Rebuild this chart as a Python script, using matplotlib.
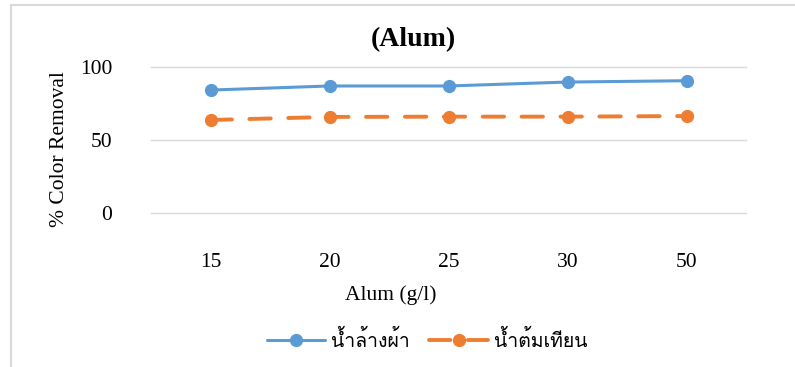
import matplotlib
matplotlib.use("Agg")
import matplotlib.pyplot as plt
from matplotlib import font_manager
from matplotlib.ft2font import FT2Font
from matplotlib.patches import Rectangle

# Data
doses = ["15", "20", "25", "30", "50"]
laundry = [84.2, 87.0, 87.0, 89.7, 90.6]
candle = [63.7, 65.8, 66.0, 66.0, 66.4]
series_names = ["น้ำล้างผ้า", "น้ำต้มเทียน"]
title = "(Alum)"
xlabel = "Alum (g/l)"
ylabel = "% Color Removal"


def thai_family():
    for f in font_manager.fontManager.ttflist:
        try:
            ft = FT2Font(f.fname)
            if ft.get_char_index(ord("น")) and ft.get_char_index(ord("้")):
                return f.name
        except Exception:
            pass
    return "DejaVu Sans"


serif = "Liberation Serif"
thai = thai_family()

fig = plt.figure(figsize=(7.95, 3.67), dpi=100)
W, H = 795, 367

# chart frame
fig.patches.append(Rectangle((11 / W, -0.1), 1.2, 1 - 5 / H + 0.1,
                             transform=fig.transFigure, fill=False,
                             edgecolor="#d9d9d9", linewidth=1.5))

ax = fig.add_axes([151 / W, 1 - 213 / H, 595 / W, (213 - 67) / H])
x = list(range(len(doses)))
ax.plot(x, laundry, color="#5B9BD5", linewidth=2.2, marker="o",
        markersize=8.5, solid_capstyle="round", label=series_names[0])
ax.plot(x, candle, color="#ED7D31", linewidth=2.8, marker="o",
        markersize=8.5, dashes=(5.5, 4.5), dash_capstyle="round",
        label=series_names[1])

ax.set_xlim(-0.5, len(doses) - 0.5)
ax.set_ylim(0, 100)
ax.set_yticks([0, 50, 100])
ax.set_xticks(x)
ax.set_xticklabels(doses)
ax.grid(axis="y", color="#d9d9d9", linewidth=1)
for gl in ax.get_ygridlines():
    gl.set_clip_on(False)
ax.set_axisbelow(True)
for s in ax.spines.values():
    s.set_visible(False)
ax.tick_params(length=0, labelsize=15.5)
ax.tick_params(axis="x", pad=29)
ax.tick_params(axis="y", pad=28)
for lab in ax.get_xticklabels() + ax.get_yticklabels():
    lab.set_fontfamily(serif)

fig.text(413 / W, 1 - 40 / H, title, ha="center", va="center",
         fontsize=20, fontweight="bold", fontfamily=serif)
fig.text(391 / W, 1 - 295 / H, xlabel, ha="center", va="center",
         fontsize=15.5, fontfamily=serif)
fig.text(60 / W, 1 - 149 / H, ylabel, ha="center", va="center",
         rotation=90, fontsize=15.5, fontfamily=serif)

leg = fig.legend(loc="center", bbox_to_anchor=(427 / W, 1 - 340 / H),
                 ncol=2, frameon=False, handlelength=3.0,
                 handletextpad=0.3, columnspacing=1.0,
                 prop={"family": [thai, "DejaVu Sans"], "size": 14})

fig.savefig("out.png", dpi=100)
